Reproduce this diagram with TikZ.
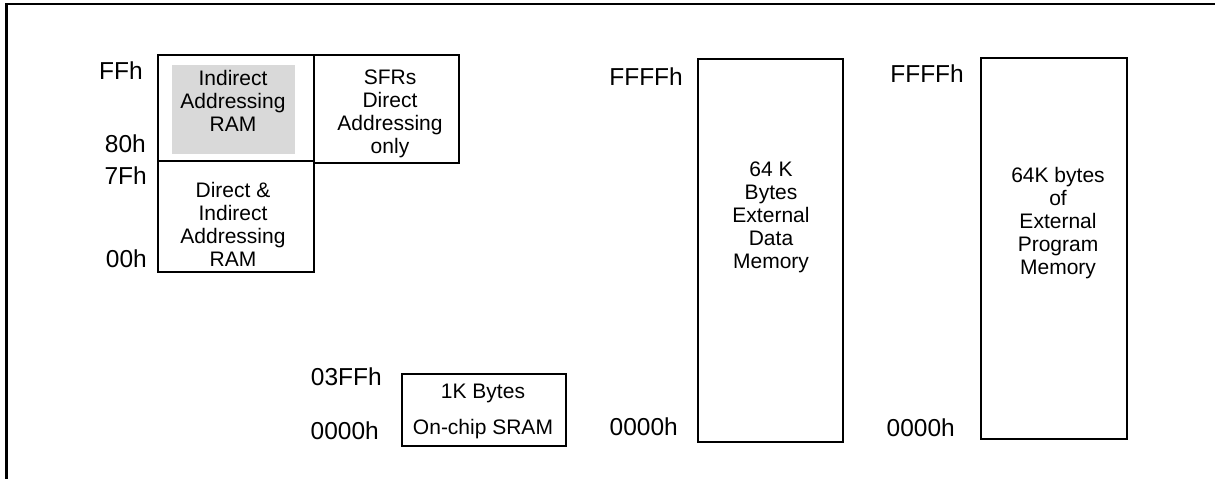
\documentclass[tikz,border=0pt]{standalone}
\usepackage{fontspec}
\setmainfont{Liberation Sans}
\begin{document}
\begin{tikzpicture}[x=1pt,y=-1pt,
  box/.style={draw=black,line width=1.6pt},
  btxt/.style={align=center,font=\fontsize{21}{23}\selectfont,inner sep=0pt},
  addr/.style={font=\fontsize{24.5}{28}\selectfont,inner sep=0pt,anchor=east}]
\useasboundingbox (0,0) rectangle (1215,479);
% frame (top and left edges)
\draw[line width=2.2pt] (6.5,479) -- (6.5,4) -- (1215,4);
% internal RAM
\fill[black!15] (172,65) rectangle (295,154);
\node[box,minimum width=156pt,minimum height=106pt,anchor=north west,inner sep=0pt] (upper) at (157,54) {};
\node[box,minimum width=156pt,minimum height=111pt,anchor=north west,inner sep=0pt] (lower) at (157,160) {};
\node[box,minimum width=145pt,minimum height=108pt,anchor=north west,inner sep=0pt] (sfr) at (313,54) {};
\node[btxt] (tupper) at (233,101) {Indirect\\Addressing\\RAM};
\node[btxt] (tlower) at (233,224) {Direct \&\\Indirect\\Addressing\\RAM};
\node[btxt] (tsfr) at (390,114) {SFRs\\Direct\\Addressing\\only};
\node[addr] (aFF) at (143,71) {FFh};
\node[addr] (a80) at (146,144) {80h};
\node[addr] (a7F) at (147,176) {7Fh};
\node[addr] (a00) at (147,259) {00h};
% on-chip SRAM
\node[box,minimum width=164pt,minimum height=72pt,anchor=north west,inner sep=0pt] (sram) at (401,373) {};
\node[btxt] (tsram1) at (483,393) {1K Bytes};
\node[btxt] (tsram2) at (483,429) {On-chip SRAM};
\node[addr] (s03) at (382,377) {03FFh};
\node[addr] (s00) at (379,431) {0000h};
% external data memory
\node[box,minimum width=145pt,minimum height=383pt,anchor=north west,inner sep=0pt] (xdata) at (697,58) {};
\node[btxt] (txdata) at (771,217) {64 K\\Bytes\\External\\Data\\Memory};
\node[addr] (dFF) at (683,77) {FFFFh};
\node[addr] (d00) at (678,427) {0000h};
% external program memory
\node[box,minimum width=146pt,minimum height=381pt,anchor=north west,inner sep=0pt] (xprog) at (980,57) {};
\node[btxt] (txprog) at (1058,223) {64K bytes\\of\\External\\Program\\Memory};
\node[addr] (pFF) at (964,74) {FFFFh};
\node[addr] (p00) at (955,428) {0000h};
\end{tikzpicture}
\end{document}
